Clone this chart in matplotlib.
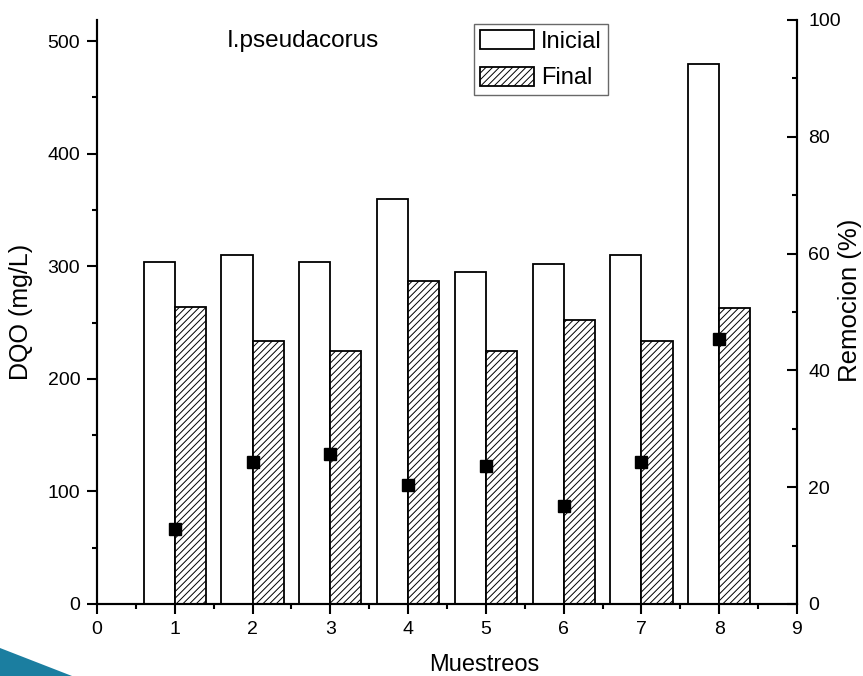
import matplotlib
matplotlib.use("Agg")
import matplotlib.pyplot as plt
from matplotlib.patches import Polygon
from matplotlib.ticker import MultipleLocator
import numpy as np

plt.rcParams['font.family'] = ['Liberation Sans', 'DejaVu Sans']
plt.rcParams['hatch.linewidth'] = 0.7

# Data
muestreos = [1, 2, 3, 4, 5, 6, 7, 8]
inicial = [304, 310, 304, 360, 295, 302, 310, 480]
final = [264, 234, 225, 287, 225, 252, 234, 263]
remocion = [12.9, 24.4, 25.7, 20.3, 23.6, 16.7, 24.4, 45.3]
title_text = "I.pseudacorus"
labels = ["Inicial", "Final"]

W, H = 863, 676
fig = plt.figure(figsize=(W / 100, H / 100), dpi=100)
ax = fig.add_axes([97 / W, (H - 604) / H, 700 / W, 584 / H])
ax2 = ax.twinx()

x = np.array(muestreos, dtype=float)
bw = 0.4
ax.bar(x - bw / 2, inicial, width=bw, facecolor='white', edgecolor='black',
       linewidth=1.3, label=labels[0], zorder=2)
ax.bar(x + bw / 2, final, width=bw, facecolor='white', edgecolor='black',
       linewidth=1.3, hatch='/////', label=labels[1], zorder=2)

ax2.plot(x, remocion, linestyle='none', marker='s', markersize=8.5,
         color='black', zorder=5)

ax.set_xlim(0, 9)
ax.set_ylim(0, 518.7)
ax2.set_ylim(0, 100)

ax.xaxis.set_major_locator(MultipleLocator(1))
ax.xaxis.set_minor_locator(MultipleLocator(0.5))
ax.yaxis.set_major_locator(MultipleLocator(100))
ax.yaxis.set_minor_locator(MultipleLocator(50))
ax2.yaxis.set_major_locator(MultipleLocator(20))
ax2.yaxis.set_minor_locator(MultipleLocator(10))

for a in (ax, ax2):
    a.spines['top'].set_visible(False)
    for s in a.spines.values():
        s.set_linewidth(1.5)

ax.tick_params(axis='both', which='major', direction='out', length=7, width=1.5,
               labelsize=14, pad=5)
ax.tick_params(axis='both', which='minor', direction='out', length=3.5, width=1.5)
ax.tick_params(axis='y', which='both', right=False)
ax2.tick_params(axis='y', which='major', direction='in', length=7, width=1.5,
                labelsize=14, pad=8)
ax2.tick_params(axis='y', which='minor', direction='in', length=3.5, width=1.5)

ax.set_xlabel("Muestreos", fontsize=17)
ax.set_ylabel("DQO (mg/L)", fontsize=18)
ax2.set_ylabel("Remocion (%)", fontsize=18.5)
ax.xaxis.set_label_coords(0.5536, -0.085)
ax.yaxis.set_label_coords(-0.0914, 0.5)
ax2.yaxis.set_label_coords(1.058, 0.52)

ax.text(0.185, 0.953, title_text, transform=ax.transAxes, fontsize=17.5,
        ha='left', va='baseline')

leg = ax.legend(loc='upper left', bbox_to_anchor=(0.538, 0.993), fontsize=17,
                frameon=True, fancybox=False, edgecolor='#444444',
                handlelength=2.3, handleheight=0.85, handletextpad=0.3,
                labelspacing=0.6, borderpad=0.25, borderaxespad=0.0)
leg.get_frame().set_linewidth(1.0)
ax2.set_zorder(3)
ax.set_zorder(2)
ax2.patch.set_visible(False)

# decorative wedge in the lower-left corner
wedge = Polygon([(0, (H - 648) / H), (72 / W, 0), (0, 0)], closed=True,
                transform=fig.transFigure, facecolor='#1b7ea0', edgecolor='none')
fig.add_artist(wedge)

fig.savefig("out.png", dpi=100)
